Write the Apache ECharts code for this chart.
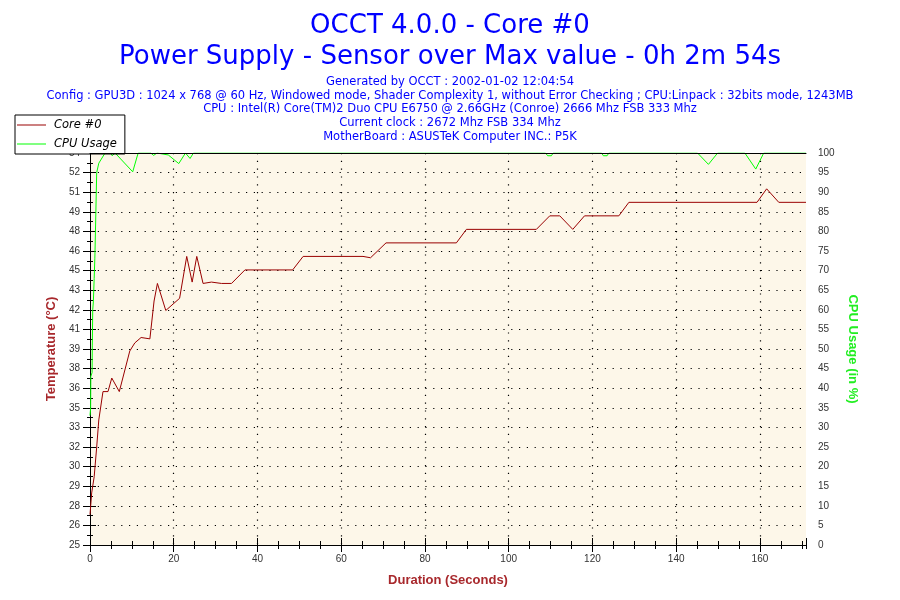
<!DOCTYPE html>
<html>
<head>
<meta charset="utf-8">
<title>OCCT 4.0.0 - Core #0</title>
<script src="https://cdn.jsdelivr.net/npm/echarts@6.0.0/dist/echarts.min.js"></script>
<style>
    html, body { margin: 0; padding: 0; background: #fff; }
    #chart { width: 900px; height: 600px; }
</style>
</head>
<body>
<div id="chart"></div>
<script>
// chart texts
var titleLines = [
    'OCCT 4.0.0 - Core #0',
    'Power Supply - Sensor over Max value - 0h 2m 54s'
];
var infoLines = [
    'Generated by OCCT : 2002-01-02 12:04:54',
    'Config : GPU3D : 1024 x 768 @ 60 Hz, Windowed mode, Shader Complexity 1, without Error Checking ; CPU:Linpack : 32bits mode, 1243MB',
    'CPU : Intel(R) Core(TM)2 Duo CPU E6750 @ 2.66GHz (Conroe) 2666 Mhz FSB 333 Mhz',
    'Current clock : 2672 Mhz FSB 334 Mhz',
    'MotherBoard : ASUSTeK Computer INC.: P5K'
];

// Core #0 temperature (seconds, degrees C)
var tempSeconds = [0, 0.4, 1.0, 1.6, 2.1, 3.1, 4.3, 5.2, 7.0, 9.5,
    10.7, 12.2, 14.3, 15.3, 16.1, 18.1, 21.4, 23.1, 24.4, 25.5,
    27.0, 29.0, 31.4, 33.8, 37.0, 48.4, 50.9, 65.2, 65.6, 67.0,
    70.7, 87.5, 89.9, 106.6, 109.8, 112.2, 115.3, 118.1, 126.3, 128.7,
    159.3, 161.6, 164.5, 171];
var tempValues = [26.9, 28.5, 29.7, 31.9, 33.9, 36.0, 36.0, 37.0, 36.0, 39.0,
    39.6, 40.0, 39.9, 42.7, 44.0, 42.0, 42.9, 46.0, 44.1, 46.0,
    44.0, 44.1, 44.0, 44.0, 45.0, 45.0, 46.0, 46.0, 45.9, 45.9,
    47.0, 47.0, 48.0, 48.0, 49.0, 49.0, 48.0, 49.0, 49.0, 50.0,
    50.0, 51.0, 50.0, 50.0];

// CPU usage (seconds, %)
var cpuSeconds = [0, 0.15, 0.2, 0.5, 0.55, 0.65, 0.8, 1.0, 1.15, 1.2,
    1.4, 1.6, 2.1, 2.4, 3.6, 4.9, 5.3, 6.0, 10.2, 11.5,
    14.5, 15.2, 16.0, 18.7, 21.2, 22.8, 23.9, 24.7, 108.8, 109.3,
    110.2, 110.6, 122.2, 122.6, 123.5, 123.9, 145.1, 147.7, 149.9, 156.4,
    159.0, 160.9, 171];
var cpuValues = [33, 35, 43, 44, 51, 60, 62, 68, 73, 75,
    85, 95, 97.4, 97.8, 100, 100, 99.3, 100, 95.2, 100,
    100, 99.4, 100, 99.5, 97.3, 100, 98.6, 100, 100, 99.3,
    99.3, 100, 100, 99.3, 99.3, 100, 100, 97.1, 100, 100,
    95.9, 100, 100];

// left axis: 20 steps of 1.45 degrees, labels as printed on the chart
var tempTickLabels = [25, 26, 28, 29, 30, 32, 33, 35, 36, 38, 39,
    41, 42, 43, 45, 46, 48, 49, 51, 52, 54];
var tempMin = 24.65, tempMax = 53.65, tempStep = 1.45;
var cpuMin = 0, cpuMax = 100, cpuStep = 5;
var timeMax = 171;

function pairs(xs, ys) {
    var out = [];
    for (var i = 0; i < xs.length; i++) {
        out.push([xs[i], ys[i]]);
    }
    return out;
}

var labelFont = { fontFamily: 'Liberation Sans', fontSize: 10, color: '#333' };
var dots = { color: '#000', width: 1.2, type: [1.2, 6.6] };

function xAxis(opt) {
    var a = {
        type: 'value', min: 0, max: timeMax, interval: opt.interval,
        position: opt.position || 'bottom',
        axisLine: { show: !!opt.line, lineStyle: { color: '#000', width: 1 } },
        axisTick: { show: !!opt.tick, inside: !!opt.inside, length: opt.len || 0,
            lineStyle: { color: '#000', width: 1 } },
        axisLabel: { show: false },
        splitLine: { show: false }
    };
    if (opt.z) a.z = opt.z;
    return a;
}

function yAxis(opt) {
    return {
        type: 'value', min: opt.min, max: opt.max, interval: opt.interval,
        position: opt.position,
        axisLine: { show: !!opt.line, lineStyle: { color: '#000', width: 1 } },
        axisTick: { show: true, inside: !!opt.inside, length: opt.len,
            lineStyle: { color: '#000', width: 1 } },
        minorTick: { show: true, splitNumber: 2, length: opt.minorLen,
            lineStyle: { color: '#000', width: 1 } },
        axisLabel: { show: false },
        splitLine: { show: false }
    };
}

// main x axis, labels + vertical dotted grid
var xMain = xAxis({ interval: 20, line: true, tick: true, len: 7 });
xMain.axisLabel = {
    show: true, margin: 9, showMaxLabel: false,
    fontFamily: labelFont.fontFamily, fontSize: labelFont.fontSize, color: labelFont.color
};
xMain.splitLine = { show: true, showMinLine: false, showMaxLine: false, lineStyle: dots };
xMain.name = 'Duration (Seconds)';
xMain.nameLocation = 'middle';
xMain.nameGap = 29;
xMain.nameTextStyle = { fontFamily: 'Liberation Sans', fontSize: 13, fontWeight: 'bold', color: '#A8282C' };

// left temperature axis
var yTemp = yAxis({ min: tempMin, max: tempMax, interval: tempStep, position: 'left',
    line: true, len: 7, minorLen: 3 });
yTemp.axisLabel = {
    show: true, margin: 10,
    fontFamily: labelFont.fontFamily, fontSize: labelFont.fontSize, color: labelFont.color,
    formatter: function (v) {
        var i = Math.round((v - tempMin) / tempStep);
        return tempTickLabels[i] !== undefined ? String(tempTickLabels[i]) : '';
    }
};
yTemp.name = 'Temperature (°C)';
yTemp.nameLocation = 'middle';
yTemp.nameGap = 32;
yTemp.nameTextStyle = { fontFamily: 'Liberation Sans', fontSize: 13, fontWeight: 'bold', color: '#A8282C' };

// right cpu axis, horizontal dotted grid
var yCpu = yAxis({ min: cpuMin, max: cpuMax, interval: cpuStep, position: 'right',
    line: true, len: 6, minorLen: 3 });
yCpu.axisLabel = {
    show: true, margin: 12,
    fontFamily: labelFont.fontFamily, fontSize: labelFont.fontSize, color: labelFont.color
};
yCpu.splitLine = { show: true, showMinLine: false, showMaxLine: false, lineStyle: dots };
yCpu.name = 'CPU Usage (in %)';
yCpu.nameLocation = 'middle';
yCpu.nameRotate = -90;
yCpu.nameGap = 36;
yCpu.nameTextStyle = { fontFamily: 'Liberation Sans', fontSize: 13, fontWeight: 'bold', color: '#22EE22' };

var option = {
    animation: false,
    backgroundColor: '#fff',
    title: [
        {
            text: titleLines.join('\n'),
            left: 'center', top: 6,
            textStyle: { fontFamily: 'DejaVu Sans', fontSize: 26, fontWeight: 'normal',
                color: '#0000ff', lineHeight: 30.5 }
        },
        {
            text: infoLines.join('\n'),
            left: 'center', top: 70,
            textStyle: { fontFamily: 'DejaVu Sans', fontSize: 11.5, fontWeight: 'normal',
                color: '#0000ff', lineHeight: 13.8 }
        }
    ],
    legend: {
        orient: 'vertical', left: 15, top: 115,
        data: ['Core #0', 'CPU Usage'],
        icon: 'rect', itemWidth: 29, itemHeight: 1, itemGap: 7,
        padding: [4, 8, 4, 2],
        backgroundColor: '#fff', borderColor: '#000', borderWidth: 1,
        selectedMode: false,
        textStyle: { fontFamily: 'DejaVu Sans', fontSize: 11.5, fontStyle: 'italic',
            color: '#000', padding: [0, 0, 0, 3] }
    },
    grid: {
        show: true, left: 90, right: 94, top: 153, bottom: 55,
        backgroundColor: '#FDF7E9', borderWidth: 0
    },
    xAxis: [
        xMain,
        xAxis({ interval: 20, tick: true, inside: true, len: 7 }),
        xAxis({ interval: 5, tick: true, len: 4 }),
        xAxis({ interval: 5, tick: true, inside: true, len: 4 }),
        xAxis({ interval: 20, position: 'top', line: true, z: 5 })
    ],
    yAxis: [
        yTemp,
        yAxis({ min: tempMin, max: tempMax, interval: tempStep, position: 'left',
            inside: true, len: 6, minorLen: 3 }),
        yCpu,
        yAxis({ min: cpuMin, max: cpuMax, interval: cpuStep, position: 'right',
            inside: true, len: 6, minorLen: 3 })
    ],
    series: [
        {
            name: 'Core #0', type: 'line', xAxisIndex: 0, yAxisIndex: 0,
            showSymbol: false, symbol: 'none', color: '#990000',
            lineStyle: { color: '#990000', width: 1 },
            z: 3,
            data: pairs(tempSeconds, tempValues)
        },
        {
            name: 'CPU Usage', type: 'line', xAxisIndex: 0, yAxisIndex: 2,
            showSymbol: false, symbol: 'none', color: '#00FF00',
            lineStyle: { color: '#00FF00', width: 1 },
            z: 2,
            data: pairs(cpuSeconds, cpuValues)
        }
    ]
};

var myChart = echarts.init(document.getElementById('chart'));
myChart.setOption(option, true);
</script>
</body>
</html>
